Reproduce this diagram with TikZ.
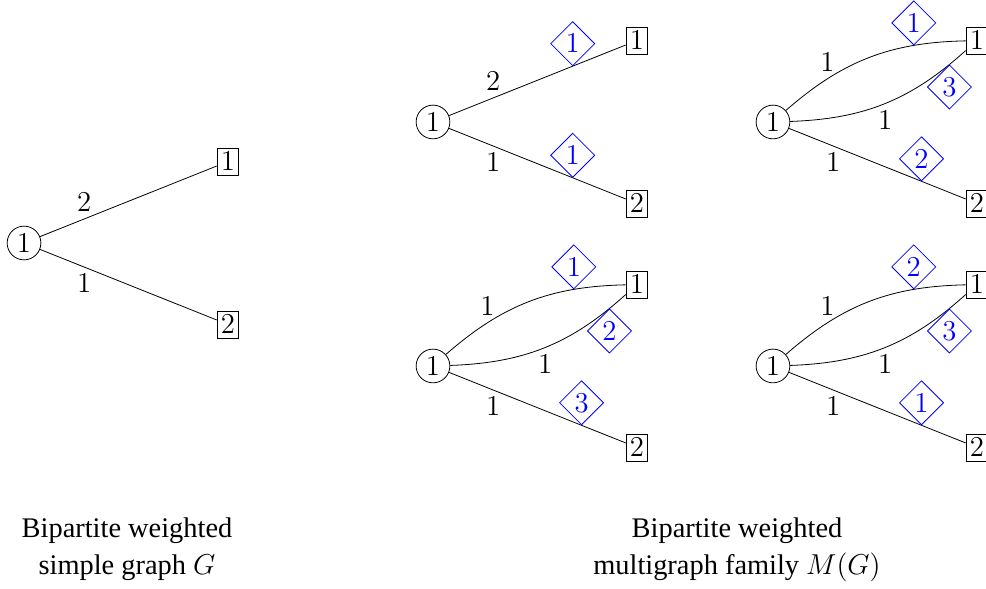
\documentclass[tikz,border=0pt]{standalone}
\usepackage[no-math]{fontspec}
\setmainfont{Liberation Serif}
\usetikzlibrary{shapes.geometric, positioning}

\begin{document}
\begin{tikzpicture}[
    node distance=1.432cm and 3.585cm, on grid,
    every node/.style={font=\fontsize{13.4}{16}\selectfont},
    % Styles
    lvtx/.style={circle, draw, inner sep=1.85pt},
    rvtx/.style={rectangle, draw, inner sep=1.9pt, minimum height=13.5pt},
    order/.style={diamond, draw=blue, text=blue, inner sep=1.45pt},
    captext/.style={align=center, font=\fontsize{14.2}{18.5}\selectfont},
]
\useasboundingbox (0,0) rectangle (17.329,-10.351);

% ── Simple graph G ──
\node[lvtx] (u0) at (0.422,-4.271) {$1$};
\node[rvtx, above right=of u0] (v01) {$1$};
\node[rvtx, below right=of u0] (v02) {$2$};

\draw (u0) -- node[pos=0.25, above] {$2$} (v01);
\draw (u0) -- node[pos=0.25, below] {$1$} (v02);

% ── Multigraph A (top left) ──
\node[lvtx] (ua) at (7.610,-2.144) {$1$};
\node[rvtx, above right=of ua] (va1) {$1$};
\node[rvtx, below right=of ua] (va2) {$2$};

\draw (ua) -- node[pos=0.25, above] {$2$} node[order, pos=0.7, above] {$1$} (va1);
\draw (ua) -- node[pos=0.25, below] {$1$} node[order, pos=0.7, above] {$1$} (va2);

% ── Multigraph B (top right) ──
\node[lvtx] (ub) at (13.585,-2.144) {$1$};
\node[rvtx, above right=of ub] (vb1) {$1$};
\node[rvtx, below right=of ub] (vb2) {$2$};

\draw (ub) to[bend left=20] node[pos=0.25, above] {$1$} node[order, pos=0.75, above] {$1$} (vb1);
\draw (ub) to[bend right=20] node[pos=0.5, below] {$1$} node[order, pos=0.9, below] {$3$} (vb1);
\draw (ub) -- node[pos=0.25, below] {$1$} node[order, pos=0.75, above] {$2$} (vb2);

% ── Multigraph C (bottom left) ──
\node[lvtx] (uc) at (7.610,-6.432) {$1$};
\node[rvtx, above right=of uc] (vc1) {$1$};
\node[rvtx, below right=of uc] (vc2) {$2$};

\draw (uc) to[bend left=20] node[pos=0.25, above] {$1$} node[order, pos=0.75, above] {$1$} (vc1);
\draw (uc) to[bend right=20] node[pos=0.5, below] {$1$} node[order, pos=0.9, below] {$2$} (vc1);
\draw (uc) -- node[pos=0.25, below] {$1$} node[order, pos=0.75, above] {$3$} (vc2);

% ── Multigraph D (bottom right) ──
\node[lvtx] (ud) at (13.585,-6.432) {$1$};
\node[rvtx, above right=of ud] (vd1) {$1$};
\node[rvtx, below right=of ud] (vd2) {$2$};

\draw (ud) to[bend left=20] node[pos=0.25, above] {$1$} node[order, pos=0.75, above] {$2$} (vd1);
\draw (ud) to[bend right=20] node[pos=0.5, below] {$1$} node[order, pos=0.9, below] {$3$} (vd1);
\draw (ud) -- node[pos=0.25, below] {$1$} node[order, pos=0.75, above] {$1$} (vd2);

% ── Captions ──
\node[captext] (capg) at (2.232,-9.657) {Bipartite weighted\\simple graph $G$};
\node[captext] (capm) at (12.953,-9.657) {Bipartite weighted\\multigraph family $M(G)$};

\end{tikzpicture}
\end{document}
